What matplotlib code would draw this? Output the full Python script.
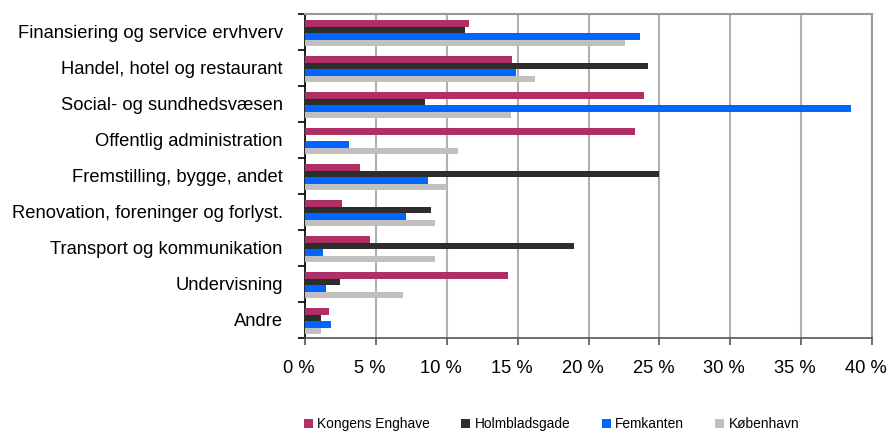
import matplotlib
matplotlib.use("Agg")
import matplotlib.pyplot as plt
import matplotlib.transforms as mtransforms
import numpy as np

plt.rcParams['font.family'] = ['Liberation Sans', 'DejaVu Sans']

categories = ["Finansiering og service ervhverv", "Handel, hotel og restaurant",
              "Social- og sundhedsvæsen", "Offentlig administration",
              "Fremstilling, bygge, andet", "Renovation, foreninger og forlyst.",
              "Transport og kommunikation", "Undervisning", "Andre"]
series_names = ["Kongens Enghave", "Holmbladsgade", "Femkanten", "København"]
kongens = [11.6, 14.6, 23.9, 23.3, 3.9, 2.6, 4.6, 14.3, 1.7]
holmblad = [11.3, 24.2, 8.5, 0.0, 25.0, 8.9, 19.0, 2.5, 1.1]
femkanten = [23.6, 14.9, 38.5, 3.1, 8.7, 7.1, 1.3, 1.5, 1.8]
kbh = [22.6, 16.2, 14.5, 10.8, 10.0, 9.2, 9.2, 6.9, 1.1]
xticks = [0, 5, 10, 15, 20, 25, 30, 35, 40]
xtick_labels = [f"{t} %" for t in xticks]

colors = ["#B03066", "#2D2D2D", "#0066FF", "#C0C0C0"]

fig = plt.figure(figsize=(8.88, 4.32), dpi=100)
ax = fig.add_axes([305/888, 1-338/432, (872-305)/888, (338-14)/432])

y = np.arange(len(categories))
h = 0.18
data = [kongens, holmblad, femkanten, kbh]
for i, (vals, c, name) in enumerate(zip(data, colors, series_names)):
    ax.barh(y - 1.5*h + i*h + 0.03, vals, height=h, color=c, label=name, zorder=3)

ax.set_xlim(0, 40)
ax.set_ylim(len(categories)-0.5, -0.5)
ax.set_xticks(xticks)
ax.set_xticklabels(xtick_labels, fontsize=13.2)
ax.set_yticks(y)
ax.set_yticklabels(categories, fontsize=13.2)
ax.tick_params(axis='y', which='major', length=0, pad=16)
ax.set_yticks(np.arange(-0.5, len(categories)), minor=True)
ax.tick_params(axis='y', which='minor', length=5, width=1.2, color='black', direction='out')
ax.tick_params(axis='x', length=5, width=1.2, color='#555555', direction='out', pad=11)

offset = mtransforms.ScaledTranslation(-6/100, 0, fig.dpi_scale_trans)
for lbl in ax.get_xticklabels():
    lbl.set_transform(lbl.get_transform() + offset)

ax.grid(axis='x', color='#B0B0B0', linewidth=1.5, zorder=0)
ax.set_axisbelow(True)
for s in ['top', 'right']:
    ax.spines[s].set_color('#999999')
    ax.spines[s].set_linewidth(1.5)
ax.spines['left'].set_color('black')
ax.spines['left'].set_linewidth(1.2)
ax.spines['bottom'].set_color('#555555')
ax.spines['bottom'].set_linewidth(1.2)

fig.legend(loc='center', bbox_to_anchor=(0.621, 1-424/432), ncol=4, frameon=False,
           fontsize=9.9, handlelength=0.65, handleheight=0.65, columnspacing=2.3,
           handletextpad=0.3)

fig.savefig("out.png", dpi=100)
